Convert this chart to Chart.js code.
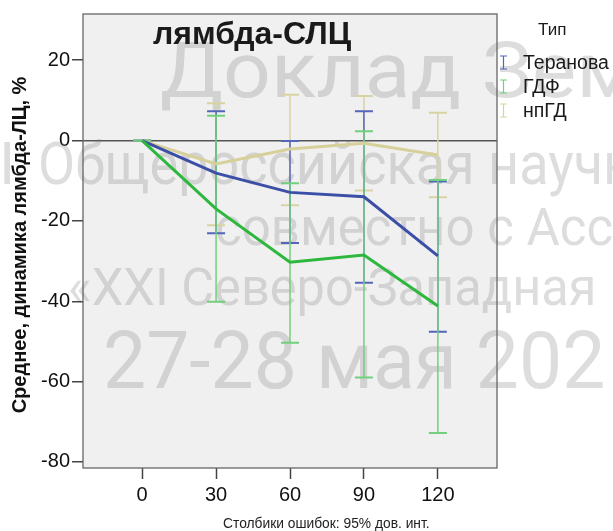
<!DOCTYPE html>
<html>
<head>
<meta charset="utf-8">
<script src="https://cdn.jsdelivr.net/npm/chart.js@4.4.1/dist/chart.umd.min.js"></script>
<style>
  html, body { margin: 0; padding: 0; background: #fff; }
  canvas { display: block; }
</style>
</head>
<body>
<canvas id="plots" width="613" height="531"></canvas>
<script>
// dias de observação (eixo x)
const dias = [0, 30, 60, 90, 120]

// médias e IC 95% por tipo
const teranova      = [0, -8.1, -12.9, -14.0, -28.7]
const teranovaBaixo = [0, -23.1, -25.5, -35.4, -47.6]
const teranovaAlto  = [0, 7.3, -0.1, 7.3, -10.2]

const gdf      = [0, -17.0, -30.3, -28.5, -41.2]
const gdfBaixo = [0, -40.1, -50.3, -59.0, -72.8]
const gdfAlto  = [0, 6.2, -10.6, 2.3, -9.8]

const npgd      = [0, -5.8, -2.1, -0.7, -3.6]
const npgdBaixo = [0, -21.1, -16.1, -12.4, -14.1]
const npgdAlto  = [0, 9.3, 11.4, 11.1, 6.9]

const ticksX = [0, 30, 60, 90, 120]
const ticksY = [20, 0, -20, -40, -60, -80]

const legenda = ['Теранова', 'ГДФ', 'нпГД']

const cores = {
  teranova: { linha: '#3b4fa6', barra: '#5466bb' },
  gdf:      { linha: '#2db83d', barra: '#72d07c' },
  npgd:     { linha: '#d6d19a', barra: '#d8d3a2' }
}

function pontos(valores) {
  return dias.map((d, i) => ({ x: d, y: valores[i] }))
}

const series = [
  { nome: 'npgd', baixo: npgdBaixo, alto: npgdAlto },
  { nome: 'teranova', baixo: teranovaBaixo, alto: teranovaAlto },
  { nome: 'gdf', baixo: gdfBaixo, alto: gdfAlto }
]

const marcaDagua = [
  { texto: 'Доклад Зем', x: 160, y: 97, tam: 77, sx: 1.09 },
  { texto: 'I', x: -1, y: 184, tam: 60, sx: 1 },
  { texto: 'Общероссийская научн', x: 38, y: 184, tam: 60, sx: 0.9 },
  { texto: 'совместно с Асс', x: 215, y: 245, tam: 51, sx: 1.0 },
  { texto: '«XXI Северо-Западная', x: 68, y: 305, tam: 51, sx: 0.99 },
  { texto: '27-28 мая 202', x: 103, y: 388, tam: 80, sx: 0.96 }
]

const extras = {
  id: 'extras',
  beforeDraw(chart) {
    const ctx = chart.ctx
    const a = chart.chartArea
    ctx.save()
    ctx.fillStyle = '#ffffff'
    ctx.fillRect(0, 0, chart.width, chart.height)
    ctx.fillStyle = '#f0f0f0'
    ctx.fillRect(a.left, a.top, a.right - a.left, a.bottom - a.top)
    ctx.restore()
  },
  beforeDatasetsDraw(chart) {
    const ctx = chart.ctx
    const a = chart.chartArea
    const sx = chart.scales.x
    const sy = chart.scales.y

    // marca d'agua
    ctx.save()
    ctx.fillStyle = 'rgba(120,120,120,0.25)'
    ctx.textBaseline = 'alphabetic'
    marcaDagua.forEach(m => {
      ctx.font = m.tam + 'px Roboto'
      ctx.save()
      ctx.translate(m.x, m.y)
      ctx.scale(m.sx, 1)
      ctx.fillText(m.texto, 0, 0)
      ctx.restore()
    })
    ctx.restore()

    // moldura
    ctx.save()
    ctx.strokeStyle = '#666'
    ctx.lineWidth = 1.3
    ctx.strokeRect(a.left, a.top, a.right - a.left, a.bottom - a.top)
    ctx.restore()

    // barras de erro
    ctx.save()
    series.forEach(s => {
      ctx.strokeStyle = cores[s.nome].barra
      dias.forEach((d, i) => {
        const px = sx.getPixelForValue(d)
        const y1 = sy.getPixelForValue(s.baixo[i])
        const y2 = sy.getPixelForValue(s.alto[i])
        ctx.lineWidth = 1.5
        ctx.beginPath()
        ctx.moveTo(px, y1)
        ctx.lineTo(px, y2)
        ctx.stroke()
        ctx.lineWidth = 2
        ctx.beginPath()
        ctx.moveTo(px - 9, y1)
        ctx.lineTo(px + 9, y1)
        ctx.moveTo(px - 9, y2)
        ctx.lineTo(px + 9, y2)
        ctx.stroke()
      })
    })
    ctx.restore()
  },
  afterDraw(chart) {
    const ctx = chart.ctx
    ctx.save()
    ctx.fillStyle = '#1a1a1a'
    ctx.textBaseline = 'alphabetic'

    ctx.font = 'bold 32px "Liberation Sans"'
    ctx.fillText('лямбда-СЛЦ', 153, 44)

    // titulo do eixo y
    ctx.save()
    ctx.translate(20, 245)
    ctx.rotate(-Math.PI / 2)
    ctx.textAlign = 'center'
    ctx.textBaseline = 'middle'
    ctx.font = 'bold 20px "Liberation Sans"'
    ctx.fillStyle = '#111'
    ctx.fillText('Среднее, динамика лямбда-ЛЦ, %', 0, 0)
    ctx.restore()

    ctx.font = '17px "Liberation Sans"'
    ctx.fillText('Тип', 538, 35)

    const nomes = ['teranova', 'gdf', 'npgd']
    ctx.font = '19.5px "Liberation Sans"'
    legenda.forEach((t, i) => {
      const base = 69 + i * 24
      ctx.fillStyle = '#1a1a1a'
      ctx.fillText(t, 523, base)
      ctx.strokeStyle = cores[nomes[i]].barra
      ctx.lineWidth = 1.2
      ctx.beginPath()
      ctx.moveTo(503.5, base - 13)
      ctx.lineTo(503.5, base)
      ctx.moveTo(500, base - 13)
      ctx.lineTo(507, base - 13)
      ctx.moveTo(500, base)
      ctx.lineTo(507, base)
      ctx.stroke()
    })

    ctx.fillStyle = '#222'
    ctx.font = '13.8px "Liberation Sans"'
    ctx.fillText('Столбики ошибок: 95% дов. инт.', 223, 528)
    ctx.restore()
  }
}

const chart = new Chart(document.getElementById('plots'), {
  type: 'line',
  data: {
    datasets: [
      { label: legenda[1], data: pontos(gdf), borderColor: cores.gdf.linha, borderWidth: 3, pointRadius: 0, fill: false },
      { label: legenda[0], data: pontos(teranova), borderColor: cores.teranova.linha, borderWidth: 3, pointRadius: 0, fill: false },
      { label: legenda[2], data: pontos(npgd), borderColor: cores.npgd.linha, borderWidth: 3, pointRadius: 0, fill: false }
    ]
  },
  options: {
    responsive: false,
    animation: false,
    devicePixelRatio: 1,
    layout: { padding: { top: 9, right: 116, left: 0, bottom: 0 } },
    plugins: {
      legend: { display: false },
      tooltip: { enabled: false }
    },
    scales: {
      x: {
        type: 'linear',
        min: -24,
        max: 144,
        afterFit: s => { s.height = 63 },
        afterBuildTicks: s => { s.ticks = ticksX.map(v => ({ value: v })) },
        ticks: {
          font: { size: 20, family: 'Liberation Sans' },
          color: '#111',
          padding: 4
        },
        grid: { drawOnChartArea: false, tickLength: 11, tickColor: '#444', tickWidth: 1.5 },
        border: { display: false }
      },
      y: {
        min: -81.5,
        max: 31.5,
        afterFit: s => { s.width = 83 },
        afterBuildTicks: s => { s.ticks = ticksY.map(v => ({ value: v })) },
        ticks: {
          font: { size: 20, family: 'Liberation Sans' },
          color: '#111',
          padding: 2
        },
        grid: {
          color: c => (c.tick && c.tick.value === 0) ? '#555' : 'rgba(0,0,0,0)',
          lineWidth: 1.5,
          tickLength: 11,
          tickColor: '#444',
          tickWidth: 1.5
        },
        border: { display: false }
      }
    }
  },
  plugins: [extras]
})
</script>
</body>
</html>
